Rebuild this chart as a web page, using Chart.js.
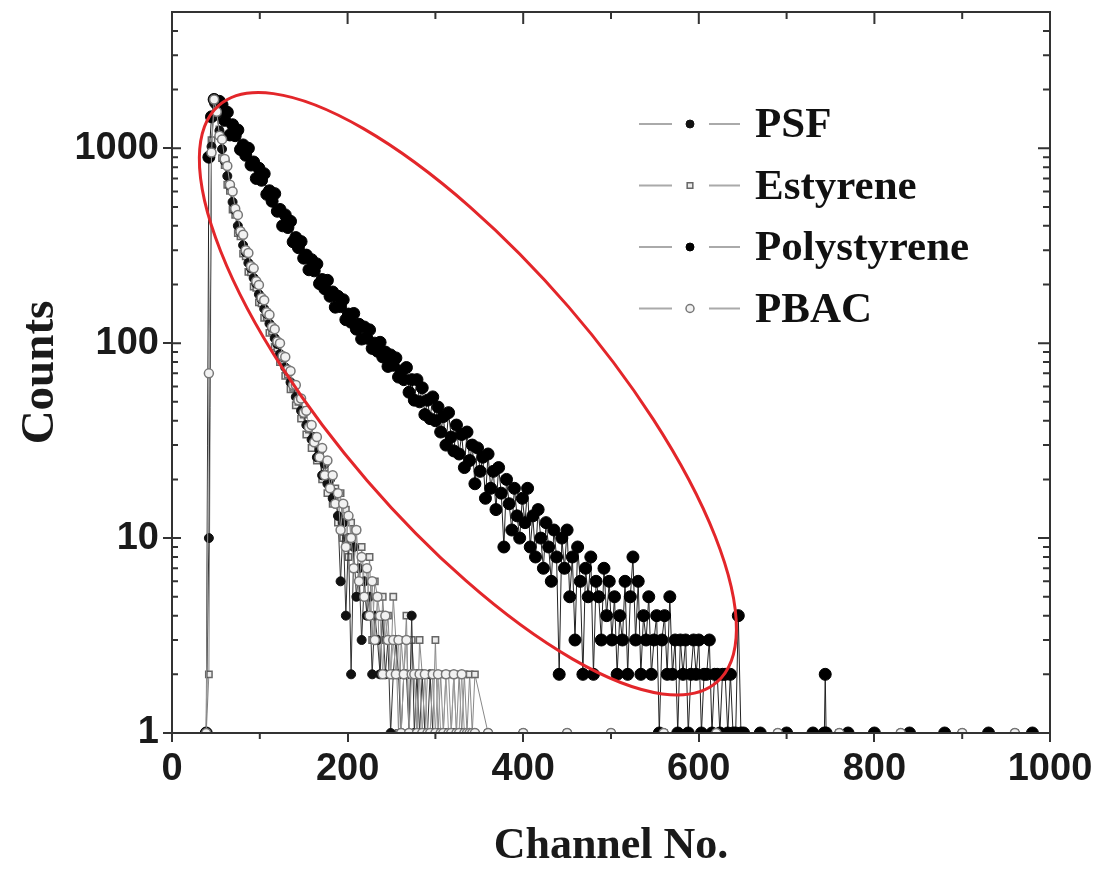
<!DOCTYPE html>
<html>
<head>
<meta charset="utf-8">
<script src="https://cdn.jsdelivr.net/npm/chart.js@4.4.0/dist/chart.umd.min.js"></script>
<style>
  body { margin: 0; background: #fff; }
</style>
</head>
<body>
<canvas id="myChart" width="1100" height="869"></canvas>
<script>
// counts are stored per channel: first channel, then every channelStep channels
const firstChannel = 39;
const channelStep = 3;

const psfCounts = [
  1, 10, 1020, 1700, 1480, 1230, 990, 860, 720, 640,
  530, 480, 400, 370, 318, 292, 258, 242, 216, 202,
  178, 168, 150, 141, 126, 120, 106, 99, 88, 85,
  75, 72, 63, 61, 53, 52, 45, 44, 38, 38,
  32, 33, 26, 28, 21, 24, 19, 20, 16, 17,
  13, 6, 12, 4, 10, 2, 9, 5, 7, 3,
  6, 4, 5, 2, 4, 3, 2, 4, 2, 3,
  1, 2, 3, 2, 1, 2, 2, 1, 4, 1,
  2, 1, 2, 1, 1, 2, 1, 1, 1, 1,
  1, 1, 1, 1, 1, 1, 1, 1, 1, 1,
  1, 1, 1
];

const estyreneCounts = [
  1, 2, 1100, 1720, 1460, 1250, 890, 820, 650, 605,
  485, 455, 367, 353, 288, 279, 232, 231, 195, 192,
  162, 160, 135, 136, 113, 115, 96, 94, 80, 82,
  68, 69, 58, 59, 48, 50, 41, 43, 34, 36,
  29, 32, 25, 27, 20, 23, 17, 20, 15, 18,
  12, 17, 10, 14, 8, 12, 7, 11, 5, 9,
  6, 4, 8, 3, 6, 5, 2, 5, 3, 4,
  2, 5, 3, 1, 3, 2, 4, 1, 3, 2,
  1, 3, 2, 1, 2, 2, 1, 3, 1, 2,
  1, 2, 2, 1, 2, 1, 2, 1, 2, 1,
  2, 1, 2
];

const polystyreneCounts = [
  1, 900, 1450, 1780, 1690, 1740, 1670, 1390, 1530, 1170,
  1320, 1160, 1240, 985, 1040, 920, 1000, 820, 850, 700,
  790, 685, 740, 580, 605, 535, 585, 475, 485, 400,
  455, 392, 422, 331, 348, 309, 332, 273, 283, 238,
  268, 235, 255, 202, 212, 190, 210, 174, 183, 153,
  174, 154, 167, 132, 141, 128, 142, 118, 125, 105,
  121, 106, 117, 94, 100, 91, 101, 85, 90, 76,
  87, 77, 84, 67, 72, 65, 75, 56, 65, 51,
  65, 50, 59, 43, 51, 41, 53, 40, 47, 35,
  42, 30, 44, 33, 28, 38, 27, 34, 23, 35,
  25, 30, 19, 29, 22, 26, 16, 27, 18, 22,
  14, 23, 17, 9, 20, 15, 11, 18, 13, 10,
  16, 12, 18, 9, 13, 8, 14, 10, 7, 12,
  9, 6, 11, 8, 2, 10, 7, 11, 5, 8,
  3, 9, 6, 2, 7, 5, 8, 2, 6, 5,
  3, 7, 4, 6, 3, 5, 2, 4, 3, 6,
  2, 5, 8, 3, 6, 2, 4, 3, 5, 2,
  3, 4, 1, 3, 4, 2, 5, 2, 3, 1,
  3, 2, 3, 1, 2, 3, 2, 3, 1, 2,
  2, 3, 1, 2, 2, 1, 2, 2, 1, 2,
  1, 1, 4, 1, 1
];

const pbacCounts = [
  1, 70, 950, 1780, 1540, 1160, 1110, 880, 810, 650,
  600, 490, 455, 375, 360, 300, 290, 248, 242, 208,
  199, 171, 166, 144, 140, 121, 118, 102, 100, 86,
  85, 73, 72, 61, 61, 51, 52, 44, 45, 37,
  38, 31, 33, 26, 29, 21, 25, 18, 21, 15,
  17, 11, 15, 9, 13, 10, 7, 11, 6, 8,
  5, 7, 4, 6, 3, 5, 4, 2, 4, 3,
  2, 3, 2, 3, 1, 2, 3, 1, 2, 2,
  1, 2, 1, 2, 1, 1, 2, 1, 2, 1,
  1, 2, 1, 1, 2, 1, 1, 2, 1, 1,
  1, 1, 1
];

// sparse points further out, lying on the axis
const fastTailChannels = [360, 400, 450, 500, 560, 620, 690, 760, 830, 900, 960];
const fastTailCounts = [1, 1, 1, 1, 1, 1, 1, 1, 1, 1, 1];
const polyTailChannels = [670, 700, 730, 743, 744, 745, 770, 800, 840, 880, 930, 980];
const polyTailCounts = [1, 1, 1, 1, 2, 1, 1, 1, 1, 1, 1, 1];

const xTicks = [0, 200, 400, 600, 800, 1000];
const yTicks = [1, 10, 100, 1000];

function toPoints(counts, tailChannels, tailCounts) {
  const pts = counts.map((c, i) => ({x: firstChannel + i * channelStep, y: c}));
  tailChannels.forEach((ch, i) => pts.push({x: ch, y: tailCounts[i]}));
  return pts;
}

// frame, mirrored ticks, minor ticks, the red ellipse and the legend
const decorations = {
  id: 'decorations',
  afterDatasetsDraw(chart) {
    const {ctx, chartArea: a, scales: {x, y}} = chart;
    ctx.save();
    ctx.strokeStyle = '#333';
    ctx.lineWidth = 2;
    ctx.strokeRect(a.left, a.top, a.right - a.left, a.bottom - a.top);

    ctx.beginPath();
    for (const d of yTicks) {
      const py = y.getPixelForValue(d);
      ctx.moveTo(a.left, py); ctx.lineTo(a.left + 9, py);
      ctx.moveTo(a.right, py); ctx.lineTo(a.right - 12, py);
      for (let m = 2; m <= 9; m++) {
        if (d * m > y.max) break;
        const pm = y.getPixelForValue(d * m);
        ctx.moveTo(a.left, pm); ctx.lineTo(a.left + 6, pm);
        ctx.moveTo(a.right, pm); ctx.lineTo(a.right - 7, pm);
      }
    }
    for (const v of xTicks) {
      const px = x.getPixelForValue(v);
      ctx.moveTo(px, a.top); ctx.lineTo(px, a.top + 12);
      if (v + 100 < x.max) {
        const pm = x.getPixelForValue(v + 100);
        ctx.moveTo(pm, a.top); ctx.lineTo(pm, a.top + 7);
        ctx.moveTo(pm, a.bottom); ctx.lineTo(pm, a.bottom + 6);
      }
    }
    ctx.stroke();

    const cx = x.getPixelForValue(337);
    const cy = y.getPixelForValue(55);
    ctx.beginPath();
    ctx.ellipse(cx, cy, 381, 133, 49.2 * Math.PI / 180, 0, 2 * Math.PI);
    ctx.strokeStyle = '#e3262a';
    ctx.lineWidth = 3;
    ctx.stroke();
    ctx.restore();
  },
  afterDraw(chart) {
    const ctx = chart.ctx;
    chart.data.datasets.forEach((ds, i) => {
      const yy = 124 + i * 61.5;
      ctx.save();
      ctx.strokeStyle = '#aaa';
      ctx.lineWidth = 2;
      ctx.beginPath();
      ctx.moveTo(639, yy); ctx.lineTo(672, yy);
      ctx.moveTo(709, yy); ctx.lineTo(740, yy);
      ctx.stroke();
      ctx.fillStyle = ds.pointBackgroundColor;
      ctx.strokeStyle = ds.pointBorderColor;
      ctx.lineWidth = ds.pointBorderWidth;
      Chart.helpers.drawPoint(ctx, {pointStyle: ds.pointStyle, radius: 4, borderWidth: ds.pointBorderWidth, rotation: 0}, 690, yy);
      ctx.fillStyle = '#111';
      ctx.font = 'bold 43px "Liberation Serif"';
      ctx.textBaseline = 'middle';
      ctx.fillText(ds.label, 755, yy + 2);
      ctx.restore();
    });
  }
};

const ctx = document.getElementById('myChart').getContext('2d');
const myChart = new Chart(ctx, {
  type: 'scatter',
  data: {
    datasets: [{
      label: 'PSF',
      data: toPoints(psfCounts, fastTailChannels, fastTailCounts),
      showLine: true,
      borderColor: '#333',
      borderWidth: 1,
      pointStyle: 'circle',
      pointRadius: 4.5,
      pointBackgroundColor: '#111',
      pointBorderColor: '#111',
      pointBorderWidth: 1,
      order: 2
    }, {
      label: 'Estyrene',
      data: toPoints(estyreneCounts, fastTailChannels, fastTailCounts),
      showLine: true,
      borderColor: '#888',
      borderWidth: 1,
      pointStyle: 'rect',
      pointRadius: 4.5,
      pointBackgroundColor: '#ececec',
      pointBorderColor: '#666',
      pointBorderWidth: 1.5,
      order: 4
    }, {
      label: 'Polystyrene',
      data: toPoints(polystyreneCounts, polyTailChannels, polyTailCounts),
      showLine: true,
      borderColor: '#222',
      borderWidth: 1,
      pointStyle: 'circle',
      pointRadius: 6,
      pointBackgroundColor: '#000',
      pointBorderColor: '#000',
      pointBorderWidth: 1,
      order: 3
    }, {
      label: 'PBAC',
      data: toPoints(pbacCounts, fastTailChannels, fastTailCounts),
      showLine: true,
      borderColor: '#999',
      borderWidth: 1,
      pointStyle: 'circle',
      pointRadius: 4.5,
      pointBackgroundColor: '#f2f2f2',
      pointBorderColor: '#777',
      pointBorderWidth: 1.5,
      order: 1
    }]
  },
  options: {
    responsive: false,
    animation: false,
    events: [],
    clip: {left: 6, top: 6, right: 6, bottom: 0},
    layout: {padding: {top: 12, right: 50, left: 0, bottom: 0}},
    plugins: {
      legend: {display: false},
      tooltip: {enabled: false}
    },
    scales: {
      x: {
        type: 'linear',
        min: 0,
        max: 1000,
        afterBuildTicks: s => { s.ticks = xTicks.map(v => ({value: v})); },
        afterFit: s => { s.height = 136; },
        grid: {drawOnChartArea: false, tickLength: 9, color: '#333', lineWidth: 2},
        border: {display: false},
        ticks: {
          autoSkip: false,
          maxRotation: 0,
          padding: 5,
          color: '#1a1a1a',
          font: {family: 'Liberation Sans', size: 38, weight: 'bold'},
          callback: v => String(v)
        },
        title: {
          display: true,
          text: 'Channel No.',
          color: '#1a1a1a',
          padding: 0,
          font: {family: 'Liberation Serif', size: 44, weight: 'bold', lineHeight: 1}
        }
      },
      y: {
        type: 'logarithmic',
        min: 1,
        max: 5000,
        afterBuildTicks: s => { s.ticks = yTicks.map(v => ({value: v})); },
        afterFit: s => { s.width = 172; s.paddingTop = 0; s.paddingBottom = 0; },
        grid: {drawOnChartArea: false, tickLength: 9, color: '#333', lineWidth: 2},
        border: {display: false},
        ticks: {
          autoSkip: false,
          padding: 4,
          color: '#1a1a1a',
          font: {family: 'Liberation Sans', size: 38, weight: 'bold'},
          callback: v => String(v)
        },
        title: {
          display: true,
          text: 'Counts',
          color: '#1a1a1a',
          padding: {top: 17, bottom: 0},
          font: {family: 'Liberation Serif', size: 47, weight: 'bold', lineHeight: 1}
        }
      }
    }
  },
  plugins: [decorations]
});
</script>
</body>
</html>
